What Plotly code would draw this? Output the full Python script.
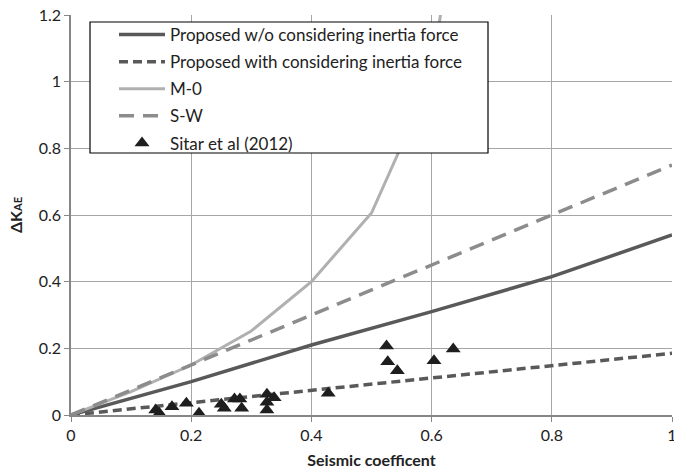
import plotly.graph_objects as go

# Data
x_prop = [0, 0.2, 0.4, 0.6, 0.8, 1.0]
y_prop_wo = [0, 0.10, 0.21, 0.31, 0.415, 0.54]
y_prop_with = [0, 0.037, 0.075, 0.113, 0.148, 0.185]

x_m0 = [0, 0.1, 0.2, 0.3, 0.4, 0.5, 0.6, 0.7]
y_m0 = [0, 0.07, 0.15, 0.252, 0.40, 0.606, 1.01, 2.3]

x_sw = [0, 1.0]
y_sw = [0, 0.75]

x_sitar = [0.141, 0.147, 0.168, 0.192, 0.213, 0.250, 0.255, 0.272, 0.281, 0.284,
           0.326, 0.326, 0.326, 0.338, 0.428, 0.525, 0.527, 0.543, 0.604, 0.636]
y_sitar = [0.015, 0.005, 0.025, 0.035, 0.005, 0.032, 0.02, 0.048, 0.048, 0.02,
           0.062, 0.038, 0.015, 0.052, 0.065, 0.207, 0.16, 0.133, 0.163, 0.198]

x_ticks = [0, 0.2, 0.4, 0.6, 0.8, 1]
x_ticklabels = ["0", "0.2", "0.4", "0.6", "0.8", "1"]
y_ticks = [0, 0.2, 0.4, 0.6, 0.8, 1.0, 1.2]
y_ticklabels = ["0", "0.2", "0.4", "0.6", "0.8", "1", "1.2"]

FONT = "Lato, 'Open Sans', sans-serif"
FS = 16

fig = go.Figure()
fig.add_trace(go.Scatter(x=x_prop, y=y_prop_wo, mode="lines",
                         name="Proposed w/o considering inertia force",
                         line=dict(color="#595959", width=3.5), legendgroup="a"))
fig.add_trace(go.Scatter(x=x_prop, y=y_prop_with, mode="lines",
                         name="Proposed with considering inertia force",
                         line=dict(color="#595959", width=3.5, dash="9px,5px"), legendgroup="b"))
fig.add_trace(go.Scatter(x=x_m0, y=y_m0, mode="lines", name="M-0",
                         line=dict(color="#b0b0b0", width=3), legendgroup="c"))
fig.add_trace(go.Scatter(x=x_sw, y=y_sw, mode="lines", name="S-W",
                         line=dict(color="#8c8c8c", width=3.5, dash="15px,9px"), legendgroup="d"))
fig.add_trace(go.Scatter(x=x_sitar, y=y_sitar, mode="markers", name="Sitar et al (2012)",
                         marker=dict(symbol="triangle-up", color="#1e1e1e", size=13),
                         legendgroup="e"))

# legend box (white, covers curves)
PW, PH = 601.0, 400.0
def px_x(p):
    return (p - 71) / PW
def px_y(p):
    return (415 - p) / PH

fig.add_shape(type="rect", xref="paper", yref="paper",
              x0=px_x(90), x1=px_x(488), y0=px_y(153), y1=px_y(22),
              fillcolor="white", line=dict(color="black", width=1.2), layer="above")

fig.update_layout(
    width=674, height=475,
    margin=dict(l=71, r=2, t=15, b=60, autoexpand=False),
    paper_bgcolor="white", plot_bgcolor="white",
    font=dict(family=FONT, size=FS, color="#222222"),
    showlegend=True,
    legend=dict(x=px_x(114), y=px_y(17), xanchor="left", yanchor="top",
                bgcolor="rgba(0,0,0,0)", borderwidth=0, itemwidth=46,
                font=dict(family=FONT, size=17, color="#222222"),
                traceorder="grouped", tracegroupgap=2),
    xaxis=dict(range=[0, 1], tickvals=x_ticks, ticktext=x_ticklabels,
               showgrid=True, gridcolor="#a6a6a6", gridwidth=1,
               showline=True, linecolor="#868686", linewidth=1.5,
               ticks="outside", ticklen=5, tickcolor="#868686",
               ticklabeloverflow="allow", automargin=False,
               zeroline=False, fixedrange=True,
               title=dict(text="<b>Seismic coefficent</b>", font=dict(size=FS, family=FONT), standoff=12)),
    yaxis=dict(range=[0, 1.2], tickvals=y_ticks, ticktext=y_ticklabels,
               showgrid=True, gridcolor="#a6a6a6", gridwidth=1,
               showline=True, linecolor="#868686", linewidth=1.5,
               ticks="outside", ticklen=5, tickcolor="#868686",
               automargin=False,
               zeroline=False, fixedrange=True,
               title=dict(text="<b>ΔK<span style='font-size:11px'>AE</span></b>",
                          font=dict(size=FS, family=FONT), standoff=12)),
)

fig.write_html("out.html")
